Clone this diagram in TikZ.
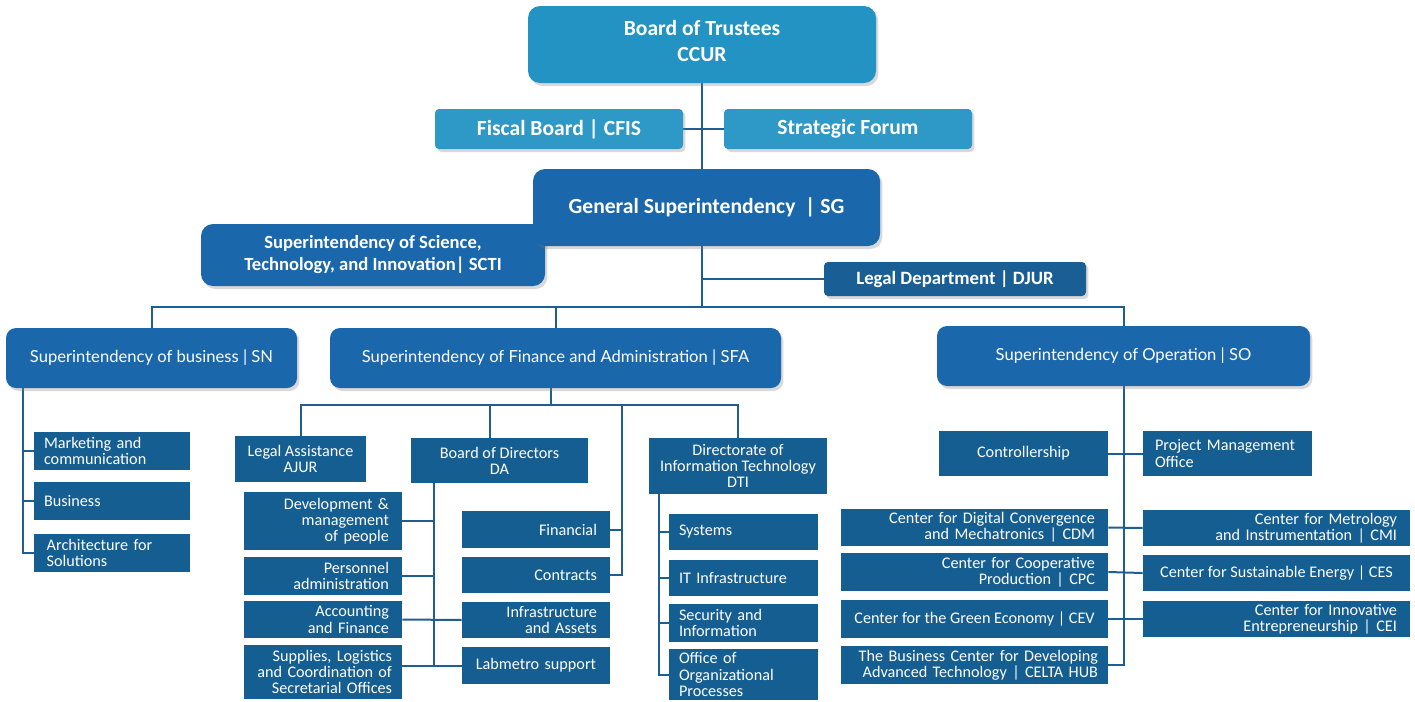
\documentclass[tikz,border=0pt]{standalone}
\usepackage{fontspec}
\setmainfont{Carlito}
\newfontfamily\latofont{Lato}
\usetikzlibrary{shadows,backgrounds}
\definecolor{topblue}{HTML}{2393C3}
\definecolor{midblue}{HTML}{1B67AC}
\definecolor{deepblue}{HTML}{195F95}
\definecolor{unitblue}{HTML}{155E92}
\definecolor{linkblue}{HTML}{1E5E93}
\newcommand\nohyph{\hyphenpenalty=10000\relax}

\begin{document}
\begin{tikzpicture}[x=0.5pt, y=-0.5pt,
    board/.style={fill=topblue, text=white, rounded corners=6pt, align=center,
        font=\fontsize{10.8}{13}\selectfont\bfseries,
        drop shadow={opacity=0.3, shadow xshift=1.2pt, shadow yshift=-1.5pt}},
    council/.style={board, rounded corners=2pt},
    chief/.style={board, fill=midblue},
    superbox/.style={chief, rounded corners=5pt, font=\latofont\fontsize{8.3}{10}\selectfont},
    unit/.style={fill=unitblue, text=white, inner xsep=5pt, inner ysep=0pt,
        font=\fontsize{8.1}{8.1}\selectfont\nohyph},
    rightunit/.style={unit, inner xsep=6.5pt, align=right},
    link/.style={draw=linkblue, line width=1pt}]

    \useasboundingbox (0,0) rectangle (1415,702);

    \node[board, text depth=4pt, minimum width=174pt, minimum height=38.5pt] (bot) at (702,44.5) {Board of Trustees\\CCUR};
    \node[council, fill=topblue!95!white, minimum width=124pt, minimum height=20pt] (cfis) at (559,129) {Fiscal Board | CFIS};
    \node[council, fill=topblue!95!white, minimum width=124pt, minimum height=20pt] (forum) at (848,129) {Strategic Forum};

    \node[chief, minimum width=172pt, minimum height=31pt, font=\fontsize{9.3}{11}\selectfont\bfseries] (scti) at (373,255) {Superintendency of Science,\\Technology, and Innovation| SCTI};
    \node[chief, minimum width=173.5pt, minimum height=38.5pt] (sg) at (706.5,207.5) {General Superintendency \ | SG};
    \node[chief, fill=deepblue, rounded corners=2pt, minimum width=131pt, minimum height=17pt, font=\fontsize{9.4}{11}\selectfont\bfseries] (djur) at (955,279) {Legal Department | DJUR};

    \node[superbox, minimum width=145.5pt, minimum height=30pt] (sn) at (151.5,358) {Superintendency of business | SN};
    \node[superbox, minimum width=225.5pt, minimum height=30pt] (sfa) at (555.5,358) {Superintendency of Finance and Administration | SFA};
    \node[superbox, minimum width=186.5pt, minimum height=30pt] (so) at (1123.5,356) {Superintendency of Operation | SO};

    \node[unit, text width=68pt, minimum height=19pt, align=left] (mkt) at (112,451) {Marketing and\\communication};
    \node[unit, text width=68pt, minimum height=19pt, align=left] (bus) at (112,501) {Business};
    \node[unit, text width=68pt, minimum height=19pt, align=left] (arch) at (112,553) {\,Architecture for\\\,Solutions};

    \node[unit, minimum width=65.5pt, minimum height=23pt, align=center] (ajur) at (300.5,459) {Legal Assistance\\AJUR};
    \node[unit, minimum width=88.5pt, minimum height=22.5pt, align=center] (da) at (499.5,460.5) {Board of Directors\\DA};
    \node[unit, inner xsep=3pt, minimum width=89pt, minimum height=28pt, align=center] (dti) at (738,466) {Directorate of\\Information Technology\\DTI};

    \node[rightunit, text width=66pt, minimum height=29pt] (dev) at (323,521) {Development \&\\management\\of people};
    \node[rightunit, text width=66pt, minimum height=19pt] (pers) at (323,576) {Personnel\\administration};
    \node[rightunit, text width=66pt, minimum height=18.5pt] (acc) at (323,619.5) {Accounting\\and Finance};
    \node[unit, text width=69pt, minimum height=27pt, align=right] (sup) at (323,672) {Supplies, Logistics\\and Coordination of\\Secretarial Offices};

    \node[rightunit, text width=61pt, minimum height=18.5pt] (fin) at (536,529.5) {Financial};
    \node[rightunit, text width=61pt, minimum height=18pt] (ctr) at (536,575) {Contracts};
    \node[rightunit, text width=61pt, minimum height=18pt] (infra) at (536,620) {Infrastructure\\and Assets};
    \node[unit, text width=64pt, minimum height=18.5pt, align=center] (lab) at (536,665.5) {Labmetro support};

    \node[unit, text width=64.5pt, minimum height=18pt, align=left] (sys) at (743.5,532) {Systems};
    \node[unit, text width=64.5pt, minimum height=18pt, align=left] (itinf) at (743.5,578) {IT Infrastructure};
    \node[unit, text width=64.5pt, minimum height=19pt, align=left] (sec) at (743.5,623) {Security and\\Information};
    \node[unit, text width=64.5pt, minimum height=25.5pt, align=left] (oop) at (743.5,674.5) {Office of\\Organizational\\Processes};

    \node[unit, text width=74.5pt, minimum height=22.5pt, align=center] (ctrl) at (1023.5,453.5) {Controllership};
    \node[unit, inner xsep=6pt, text width=72.5pt, minimum height=22.5pt, align=left] (pmo) at (1227.5,453.5) {Project Management\\Office};

    \node[rightunit, text width=120.5pt, minimum height=18.5pt] (cdm) at (974.5,527.5) {Center for Digital Convergence\\and Mechatronics | CDM};
    \node[rightunit, text width=120.5pt, minimum height=19pt] (cpc) at (974.5,572) {Center for Cooperative\\Production | CPC};
    \node[unit, minimum width=133.5pt, minimum height=19pt, align=center] (cev) at (974.5,619) {Center for the Green Economy | CEV};
    \node[unit, text width=123.5pt, minimum height=19pt, align=right] (celta) at (974.5,665) {The Business Center for Developing\\Advanced Technology | CELTA HUB};

    \node[rightunit, text width=120.5pt, minimum height=18pt] (cmi) at (1276.5,528) {Center for Metrology\\and Instrumentation | CMI};
    \node[unit, minimum width=133.5pt, minimum height=18pt, align=center] (ces) at (1276.5,573) {Center for Sustainable Energy | CES};
    \node[rightunit, text width=120.5pt, minimum height=18pt] (cei) at (1276.5,619) {Center for Innovative\\Entrepreneurship | CEI};

    \begin{scope}[on background layer]
        \coordinate (hub) at (702,307);
        \draw[link] (bot.south) -- (hub);
        \draw[link] (cfis.east) -- (forum.west);
        \draw[link] (hub |- djur.west) -- (djur.west);
        \draw[link] (sn.north) |- (hub) -| (so.north);
        \draw[link] (sfa.north) -- (sfa.north |- hub);

        \coordinate (snspine) at (23,388);
        \draw[link] (snspine) |- (arch.west);
        \draw[link] (mkt.west -| snspine) -- (mkt.west);
        \draw[link] (bus.west -| snspine) -- (bus.west);

        \coordinate (fbus) at (551,405);
        \draw[link] (sfa.south -| fbus) -- (fbus);
        \draw[link] (ajur.north) |- (fbus) -| (dti.north);
        \coordinate (dadrop) at (490,405);
        \draw[link] (dadrop) -- (dadrop |- da.north);
        \coordinate (cdrop) at (622,405);
        \draw[link] (cdrop) |- (ctr.east);
        \draw[link] (fin.east) -- (fin.east -| cdrop);

        \coordinate (daspine) at (434,483);
        \draw[link] (daspine) |- (lab.west);
        \draw[link] (dev.east) -- (dev.east -| daspine);
        \draw[link] (pers.east) -- (pers.east -| daspine);
        \draw[link] (acc.east) -- (infra.west);
        \draw[link] (sup.east |- lab.west) -- (lab.west);

        \coordinate (dtispine) at (659,494);
        \draw[link] (dtispine) |- (oop.west);
        \draw[link] (sys.west -| dtispine) -- (sys.west);
        \draw[link] (itinf.west -| dtispine) -- (itinf.west);
        \draw[link] (sec.west -| dtispine) -- (sec.west);

        \draw[link] (so.south) |- (celta.east);
        \draw[link] (ctrl.east) -- (pmo.west);
        \draw[link] (cdm.east) -- (cmi.west);
        \draw[link] (cpc.east) -- (ces.west);
        \draw[link] (cev.east) -- (cei.west);
    \end{scope}
\end{tikzpicture}
\end{document}
